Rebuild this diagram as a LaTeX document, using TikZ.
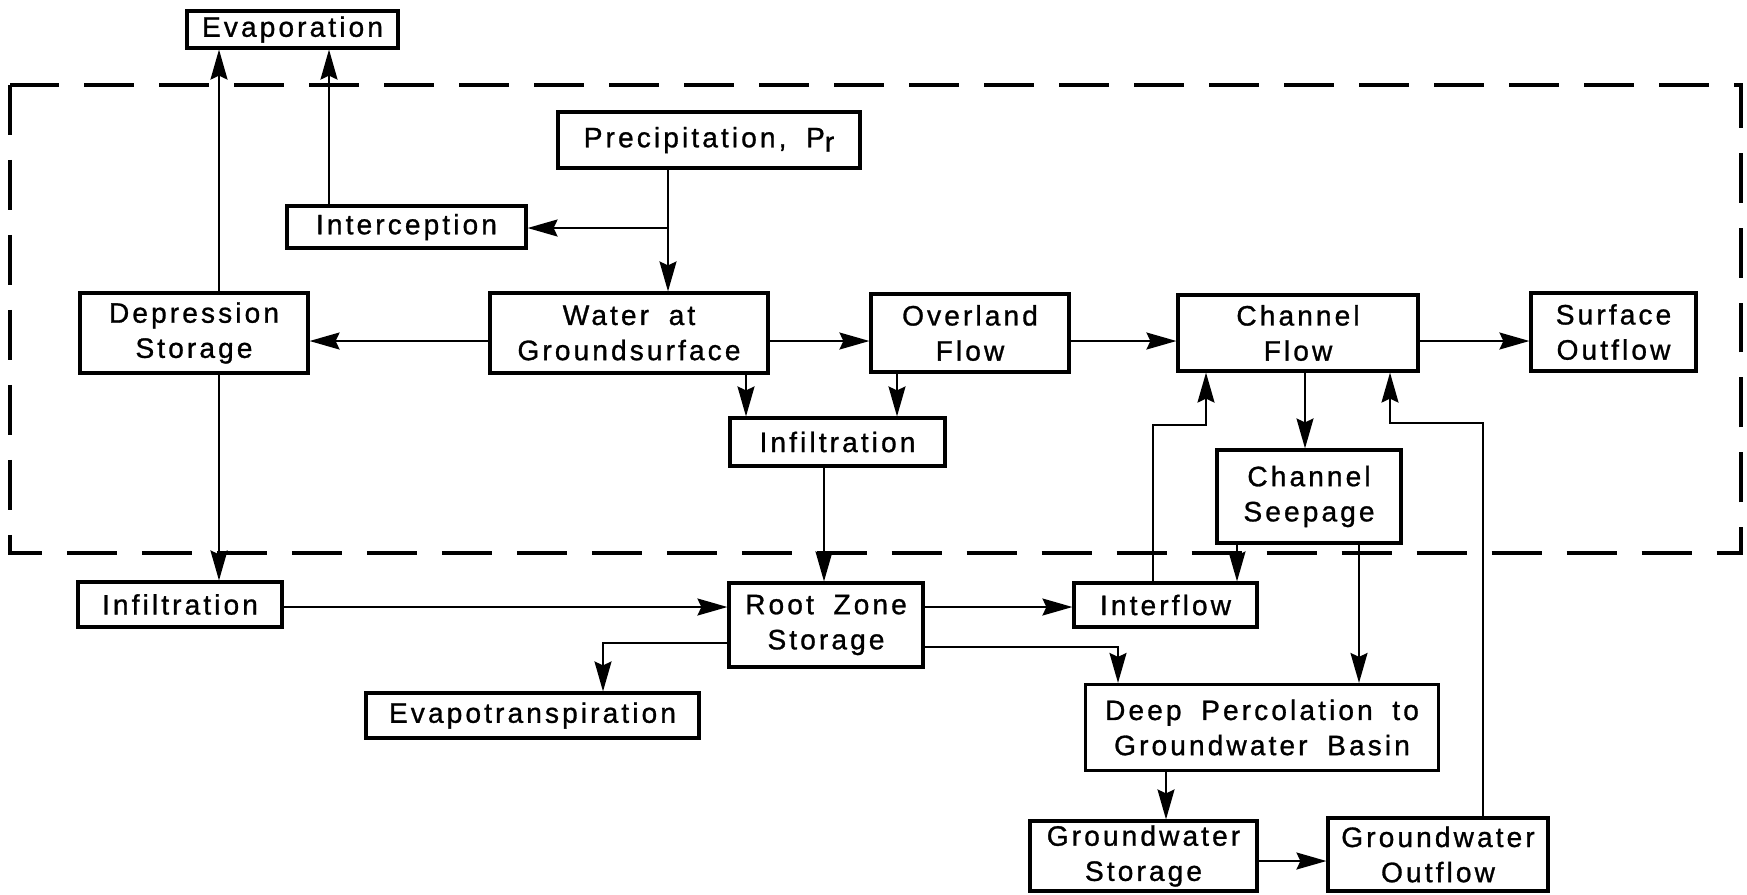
\documentclass[tikz,border=0pt]{standalone}
\usepackage{fontspec}
\setmainfont{Liberation Sans}[LetterSpace=11, WordSpace=1.8, FakeBold=1]
\usetikzlibrary{
    arrows.meta,
    positioning,
    calc
}

\begin{document}
\begin{tikzpicture}[
            x=0.02cm, y=-0.02cm,
            box_size/.style 2 args={minimum width=#1*0.02cm, minimum height=#2*0.02cm},
            process_box/.style={rectangle, draw, fill=white, line width=1.8pt, inner sep=1pt, align=center, font=\fontsize{16}{20}\selectfont},
            flow_arrow/.style={-{Stealth[length=6mm, width=3.4mm, inset=0.8mm]}, line width=1.2pt, black},
            boundary_line/.style={line width=1.8pt, dash pattern=on 1cm off 0.5cm}
        ]

        \useasboundingbox (0,0) rectangle (1747,894);

        % surface system boundary
        \draw[boundary_line] (10,85) rectangle (1741,553);

        \node[process_box, box_size={211}{37}] at (292.5,29.5) (evaporation) {Evaporation};

        \node[process_box, box_size={302}{56}] at (709,140) (precipitation) {Precipitation, P\raisebox{-0.3ex}{r}};

        \node[process_box, box_size={239}{42}] at (406.5,227) (interception) {Interception};

        \node[process_box, box_size={228}{80}] at (194,333) (depression) {Depression\\Storage};

        \node[process_box, box_size={278}{80}] at (629,333) (water) {Water at\\Groundsurface};

        \node[process_box, box_size={198}{78}] at (970,333) (overland) {Overland\\Flow};

        \node[process_box, box_size={240}{76}] at (1298,333) (channel_flow) {Channel\\Flow};

        \node[process_box, box_size={165}{78}] at (1613.5,332) (surface_outflow) {Surface\\Outflow};

        \node[process_box, box_size={215}{48}] at (837.5,442) (infil_mid) {Infiltration};

        \node[process_box, box_size={184}{93}] at (1309,496.5) (channel_seepage) {Channel\\Seepage};

        \node[process_box, box_size={204}{45}] at (180,604.5) (infil_left) {Infiltration};

        \node[process_box, box_size={194}{84}] at (826,625) (root_zone) {Root Zone\\Storage};

        \node[process_box, box_size={183}{44}] at (1165.5,605) (interflow) {Interflow};

        \node[process_box, box_size={333}{45}] at (532.5,715.5) (evapotrans) {Evapotranspiration};

        \node[process_box, box_size={353}{86}] at (1262,727.5) (deep_perc) {Deep Percolation to\\Groundwater Basin};

        \node[process_box, box_size={227}{70}] at (1143.5,856) (gw_storage) {Groundwater\\Storage};

        \node[process_box, box_size={220}{73}] at (1438,854.5) (gw_outflow) {Groundwater\\Outflow};

        % bend points and lanes
        \coordinate (precip_split) at (668,228);
        \coordinate (depression_riser) at (219,0);
        \coordinate (interception_riser) at (329,0);
        \coordinate (surface_row) at (0,341);
        \coordinate (water_drop) at (746,0);
        \coordinate (overland_drop) at (897,0);
        \coordinate (infil_drop) at (824,0);
        \coordinate (soil_row) at (0,607);
        \coordinate (et_bend) at (603,643);
        \coordinate (deep_bend) at (1118,647);
        \coordinate (interflow_bend) at (1153,425);
        \coordinate (channel_left_in) at (1206,0);
        \coordinate (seepage_in) at (1305,0);
        \coordinate (seepage_to_interflow) at (1237,0);
        \coordinate (seepage_to_deep) at (1359,0);
        \coordinate (deep_drop) at (1166,0);
        \coordinate (gw_row) at (0,861);
        \coordinate (gw_return_bend) at (1483,423);
        \coordinate (channel_right_in) at (1390,0);

        \draw[flow_arrow] (precipitation.south -| precip_split) -- (water.north -| precip_split);
        \draw[flow_arrow] (precip_split) -- (interception.east |- precip_split);
        \draw[flow_arrow] (interception.north -| interception_riser) -- (evaporation.south -| interception_riser);
        \draw[flow_arrow] (depression.north -| depression_riser) -- (evaporation.south -| depression_riser);

        \draw[flow_arrow] (water.west |- surface_row) -- (depression.east |- surface_row);
        \draw[flow_arrow] (water.east |- surface_row) -- (overland.west |- surface_row);
        \draw[flow_arrow] (overland.east |- surface_row) -- (channel_flow.west |- surface_row);
        \draw[flow_arrow] (channel_flow.east |- surface_row) -- (surface_outflow.west |- surface_row);

        \draw[flow_arrow] (water.south -| water_drop) -- (infil_mid.north -| water_drop);
        \draw[flow_arrow] (overland.south -| overland_drop) -- (infil_mid.north -| overland_drop);
        \draw[flow_arrow] (infil_mid.south -| infil_drop) -- (root_zone.north -| infil_drop);
        \draw[flow_arrow] (depression.south -| depression_riser) -- (infil_left.north -| depression_riser);

        \draw[flow_arrow] (infil_left.east |- soil_row) -- (root_zone.west |- soil_row);
        \draw[flow_arrow] (root_zone.east |- soil_row) -- (interflow.west |- soil_row);
        \draw[flow_arrow] (root_zone.west |- et_bend) -| (evapotrans.north -| et_bend);
        \draw[flow_arrow] (root_zone.east |- deep_bend) -| (deep_perc.north -| deep_bend);

        \draw[flow_arrow] (interflow.north -| interflow_bend) -- (interflow_bend) -| (channel_flow.south -| channel_left_in);
        \draw[flow_arrow] (channel_flow.south -| seepage_in) -- (channel_seepage.north -| seepage_in);
        \draw[flow_arrow] (channel_seepage.south -| seepage_to_interflow) -- (interflow.north -| seepage_to_interflow);
        \draw[flow_arrow] (channel_seepage.south -| seepage_to_deep) -- (deep_perc.north -| seepage_to_deep);

        \draw[flow_arrow] (deep_perc.south -| deep_drop) -- (gw_storage.north -| deep_drop);
        \draw[flow_arrow] (gw_storage.east |- gw_row) -- (gw_outflow.west |- gw_row);
        \draw[flow_arrow] (gw_outflow.north -| gw_return_bend) -- (gw_return_bend) -| (channel_flow.south -| channel_right_in);

\end{tikzpicture}
\end{document}
